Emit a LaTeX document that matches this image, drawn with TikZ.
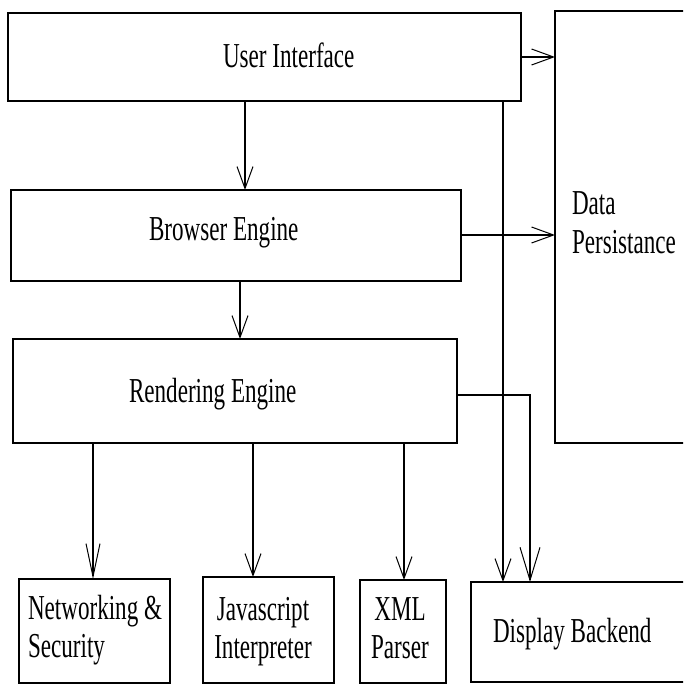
\documentclass[tikz,border=0pt]{standalone}
\usepackage{fontspec}
\setmainfont{Liberation Serif}
\usetikzlibrary{arrows.meta}
\newcommand{\lb}[1]{\scalebox{0.66}[1]{\fontsize{35}{38.5}\selectfont #1}}
\begin{document}
\begin{tikzpicture}[x=1pt,y=-1pt,
  box/.style={draw, line width=1.4pt, rectangle, inner sep=0pt, outer sep=0pt, anchor=north west},
  arr/.style={line width=1.2pt, -{Straight Barb[length=22pt,width=16pt,line width=1pt]}},
  arrlong/.style={line width=1.2pt, -{Straight Barb[length=33pt,width=20pt,line width=1pt]}},
  arrthin/.style={line width=1.2pt, -{Straight Barb[length=33pt,width=14pt,line width=1pt]}},
  lbl/.style={inner sep=0pt, outer sep=0pt}]
\useasboundingbox (0,0) rectangle (683,684);
\clip (0,0) rectangle (683,684);
\fill[white] (0,0) rectangle (683,684);
% boxes
\node[box, minimum width=513pt, minimum height=88pt] (ui) at (8,13) {};
\node[box, minimum width=220pt, minimum height=432pt] (dp) at (555,11) {};
\node[box, minimum width=450pt, minimum height=91pt] (be) at (11,190) {};
\node[box, minimum width=444pt, minimum height=104pt] (re) at (13,339) {};
\node[box, minimum width=151pt, minimum height=104pt] (net) at (19,579) {};
\node[box, minimum width=131pt, minimum height=106pt] (js) at (203,577) {};
\node[box, minimum width=86pt, minimum height=103pt] (xml) at (360,580) {};
\node[box, minimum width=240pt, minimum height=100pt] (db) at (471,582) {};
% labels
\node[lbl, anchor=base west] (tui) at (223,68) {\lb{User Interface}};
\node[lbl, anchor=base west] (tbe) at (149,241) {\lb{Browser Engine}};
\node[lbl, anchor=base west] (tre) at (129,402) {\lb{Rendering Engine}};
\node[lbl, anchor=base west] (tdp) at (572,215) {\lb{\begin{tabular}[t]{@{}l@{}}Data\\Persistance\end{tabular}}};
\node[lbl, anchor=base west] (tnet) at (28,619) {\lb{\begin{tabular}[t]{@{}l@{}}Networking \&\\Security\end{tabular}}};
\node[lbl, anchor=base] (tjs) at (263,620) {\lb{\begin{tabular}[t]{@{}c@{}}Javascript\\Interpreter\end{tabular}}};
\node[lbl, anchor=base] (txml) at (400,620) {\lb{\begin{tabular}[t]{@{}c@{}}XML\\Parser\end{tabular}}};
\node[lbl, anchor=base west] (tdb) at (493,642) {\lb{Display Backend}};
% connectors
\coordinate (c1) at (245,0);
\coordinate (c2) at (240,0);
\coordinate (c3) at (503,0);
\coordinate (c4) at (0,235);
\coordinate (bend) at (530,395);
\coordinate (c5) at (93,0);
\coordinate (c6) at (253,0);
\coordinate (c7) at (404,0);
\draw[arr] (ui.east) -- (ui.east -| dp.west);
\draw[arr] (be.east |- c4) -- (dp.west |- c4);
\draw[arr] (ui.south -| c1) -- (be.north -| c1);
\draw[arr] (be.south -| c2) -- (re.north -| c2);
\draw[arr] (ui.south -| c3) -- (db.north -| c3);
\draw[arrlong] (re.east |- bend) -- (bend) -- (db.north -| bend);
\draw[arrthin] (re.south -| c5) -- (net.north -| c5);
\draw[arr] (re.south -| c6) -- (js.north -| c6);
\draw[arr] (re.south -| c7) -- (xml.north -| c7);
\end{tikzpicture}
\end{document}
